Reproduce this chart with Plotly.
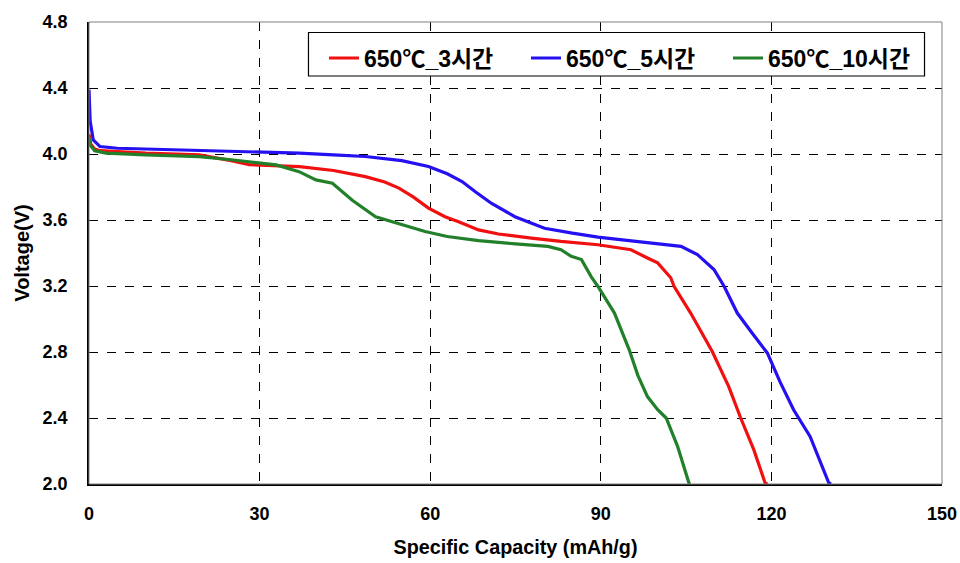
import plotly.graph_objects as go

# Data
red_x = [0, 0.3, 1, 2, 5, 10, 19.4, 25, 28.2, 33, 37, 43, 48.6, 52, 54.5, 57, 59.7, 62.6, 65, 68.5, 72, 77.8, 83, 89.5, 95.3, 98.2, 100, 102.3, 102.9, 105.8, 109.6, 112.5, 114.6, 116.9, 118.9, 119.3]
red_v = [4.12, 4.06, 4.03, 4.02, 4.015, 4.005, 3.995, 3.96, 3.935, 3.93, 3.924, 3.90, 3.863, 3.83, 3.793, 3.74, 3.672, 3.62, 3.59, 3.54, 3.515, 3.49, 3.47, 3.45, 3.42, 3.37, 3.34, 3.25, 3.197, 3.036, 2.803, 2.59, 2.40, 2.208, 2.006, 2.0]

blue_x = [0, 0.2, 0.75, 1.93, 5, 10, 19.4, 30, 36.95, 43, 48.6, 55, 59.7, 63, 65.6, 68, 70.8, 74.9, 80.1, 85, 89.5, 95, 100, 104.1, 107, 109.9, 111.7, 114.0, 116.5, 119.3, 121.5, 123.9, 126.8, 130.1, 130.5]
blue_v = [4.39, 4.2, 4.085, 4.045, 4.035, 4.03, 4.025, 4.015, 4.005, 3.995, 3.985, 3.96, 3.924, 3.88, 3.833, 3.77, 3.70, 3.62, 3.55, 3.52, 3.496, 3.475, 3.455, 3.44, 3.39, 3.30, 3.197, 3.036, 2.92, 2.793, 2.62, 2.45, 2.288, 2.006, 2.0]

green_x = [0, 0.3, 1, 3, 10, 19.4, 25, 29.9, 32.9, 36.95, 39.9, 42.8, 46.3, 50.4, 55, 59.1, 63, 68.5, 75, 80.7, 83, 84.8, 86.6, 88.3, 89.5, 92.4, 95.0, 96.5, 98.2, 100, 101.5, 103.5, 105.5, 105.7]
green_v = [4.10, 4.05, 4.02, 4.005, 3.995, 3.984, 3.965, 3.944, 3.934, 3.893, 3.843, 3.823, 3.72, 3.62, 3.575, 3.53, 3.50, 3.475, 3.455, 3.44, 3.42, 3.38, 3.36, 3.257, 3.197, 3.036, 2.813, 2.66, 2.53, 2.45, 2.40, 2.228, 2.006, 2.0]

series_names = ["650℃_3시간", "650℃_5시간", "650℃_10시간"]
x_ticks = [0, 30, 60, 90, 120, 150]
y_ticks = [2.0, 2.4, 2.8, 3.2, 3.6, 4.0, 4.4, 4.8]

FONT = "Liberation Sans, Arial, Noto Sans CJK KR, sans-serif"

fig = go.Figure()
for xs, vs, name, col in [
    (red_x, red_v, series_names[0], "#f01010"),
    (blue_x, blue_v, series_names[1], "#2410f0"),
    (green_x, green_v, series_names[2], "#23802a"),
]:
    fig.add_trace(go.Scatter(x=xs, y=vs, mode="lines", name=name,
                             line=dict(color=col, width=3.2)))

fig.update_layout(
    width=960, height=563,
    margin=dict(l=89, r=18, t=22, b=79, autoexpand=False),
    paper_bgcolor="white", plot_bgcolor="white",
    font=dict(family=FONT, color="black"),
    showlegend=True,
    legend=dict(
        orientation="h", x=0.2755, y=0.922, xanchor="left", yanchor="middle",
        borderwidth=0, bgcolor="rgba(0,0,0,0)",
        font=dict(size=23, family=FONT, color="black", weight="bold"),
        itemwidth=30, entrywidth=157, tracegroupgap=0,
    ),
    shapes=[
        dict(type="rect", xref="paper", yref="paper", x0=0, y0=0, x1=1, y1=1,
             line=dict(color="#808080", width=1), layer="above"),
        dict(type="rect", xref="paper", yref="paper", x0=0.2573, y0=0.8831,
             x1=0.9795, y1=0.9773, fillcolor="white",
             line=dict(color="black", width=1.2), layer="above"),
    ],
)

fig.update_xaxes(
    range=[0, 150], tickvals=x_ticks, ticktext=[str(t) for t in x_ticks],
    showgrid=True, gridcolor="black", griddash="dash", gridwidth=1,
    zeroline=False, showline=True, linecolor="black", linewidth=1.5,
    ticks="", ticklabelstandoff=13, automargin=False,
    tickfont=dict(size=18, family=FONT, color="black", weight="bold"),
    title=dict(text="Specific Capacity (mAh/g)", standoff=17,
               font=dict(size=19.8, family=FONT, color="black", weight="bold")),
)
fig.update_yaxes(
    range=[2.0, 4.8], tickvals=y_ticks, ticktext=[f"{t:.1f}" for t in y_ticks],
    showgrid=True, gridcolor="black", griddash="dash", gridwidth=1,
    zeroline=False, showline=True, linecolor="black", linewidth=1.5,
    ticks="", ticklabelstandoff=16, automargin=False,
    tickfont=dict(size=18, family=FONT, color="black", weight="bold"),
    title=dict(text="Voltage(V)", standoff=8,
               font=dict(size=20, family=FONT, color="black", weight="bold")),
)

fig.write_html(
    "out.html",
    config={"displayModeBar": False},
    post_script="document.body.style.margin='0';document.body.style.overflow='hidden';",
)
